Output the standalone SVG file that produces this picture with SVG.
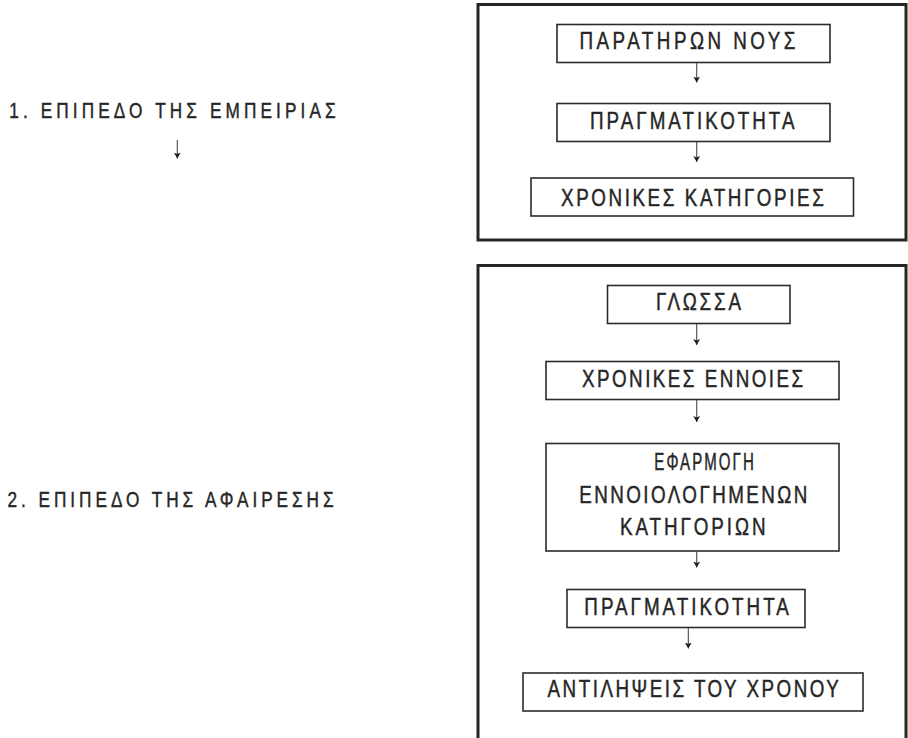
<svg xmlns="http://www.w3.org/2000/svg" width="908" height="738" viewBox="0 0 908 738">
  <style>
    .frame { fill: none; stroke: #262626; stroke-width: 3; }
    .box { fill: #ffffff; stroke: #2b2b2b; stroke-width: 1.6; }
    .lbl { font-family: "Liberation Sans", Arial, sans-serif; font-size: 23.5px; fill: #262626; stroke: #262626; stroke-width: 0.45; }
    .lvl { font-family: "Liberation Sans", Arial, sans-serif; font-size: 21.5px; fill: #262626; stroke: #262626; stroke-width: 0.45; }
    .conn { stroke: #4a4a4a; stroke-width: 1.1; fill: none; marker-end: url(#head); }
  </style>
  <defs>
    <!-- small barbed arrowhead, drawn along +x and turned to the line direction -->
    <marker id="head" viewBox="0 0 6 7" refX="6" refY="3.5" markerWidth="6" markerHeight="7" markerUnits="userSpaceOnUse" orient="auto">
      <path d="M0,0 L6,3.5 L0,7 L1.6,3.5 Z" fill="#1e1e1e"/>
    </marker>
  </defs>
  <rect width="908" height="738" fill="#ffffff"/>

  <!-- level labels (condensed by a horizontal scale) -->
  <g id="level-1" transform="translate(9.3 117.5) scale(0.8 1)">
    <text class="lvl" x="0" y="0" textLength="407.9" lengthAdjust="spacing">1. ΕΠΙΠΕΔΟ ΤΗΣ ΕΜΠΕΙΡΙΑΣ</text>
  </g>
  <g id="level-2" transform="translate(7.6 507) scale(0.8 1)">
    <text class="lvl" x="0" y="0" textLength="407.5" lengthAdjust="spacing">2. ΕΠΙΠΕΔΟ ΤΗΣ ΑΦΑΙΡΕΣΗΣ</text>
  </g>

  <!-- outer frames -->
  <g id="frame-experience">
    <rect class="frame" x="478" y="4.5" width="428" height="235.5"/>
  </g>
  <g id="frame-abstraction">
    <rect class="frame" x="478" y="265.5" width="428" height="480"/>
  </g>

  <!-- upper frame nodes -->
  <g id="observing-mind">
    <rect class="box" x="557" y="24.5" width="273" height="38"/>
    <text class="lbl" transform="translate(579.5 48.5) scale(0.8 1)" textLength="270" lengthAdjust="spacing">ΠΑΡΑΤΗΡΩΝ ΝΟΥΣ</text>
  </g>
  <g id="reality-1">
    <rect class="box" x="557" y="103.5" width="273" height="38"/>
    <text class="lbl" transform="translate(590 128.5) scale(0.8 1)" textLength="255.6" lengthAdjust="spacing">ΠΡΑΓΜΑΤΙΚΟΤΗΤΑ</text>
  </g>
  <g id="time-categories">
    <rect class="box" x="531" y="178" width="322.5" height="38"/>
    <text class="lbl" transform="translate(561 206) scale(0.8 1)" textLength="328.5" lengthAdjust="spacing">ΧΡΟΝΙΚΕΣ ΚΑΤΗΓΟΡΙΕΣ</text>
  </g>

  <!-- lower frame nodes -->
  <g id="language">
    <rect class="box" x="607.5" y="285.5" width="182.5" height="38"/>
    <text class="lbl" transform="translate(656 310) scale(0.8 1)" textLength="106.25" lengthAdjust="spacing">ΓΛΩΣΣΑ</text>
  </g>
  <g id="time-concepts">
    <rect class="box" x="546" y="361.5" width="293" height="38"/>
    <text class="lbl" transform="translate(582 386.7) scale(0.8 1)" textLength="276.5" lengthAdjust="spacing">ΧΡΟΝΙΚΕΣ ΕΝΝΟΙΕΣ</text>
  </g>
  <g id="applied-categories">
    <rect class="box" x="546" y="443.5" width="293" height="107.5"/>
    <text class="lbl" transform="translate(654.3 470) scale(0.64 1)" textLength="155.5" lengthAdjust="spacing">ΕΦΑΡΜΟΓΗ</text>
    <text class="lbl" transform="translate(579.3 502.5) scale(0.8 1)" textLength="285" lengthAdjust="spacing">ΕΝΝΟΙΟΛΟΓΗΜΕΝΩΝ</text>
    <text class="lbl" transform="translate(620 535) scale(0.8 1)" textLength="181.9" lengthAdjust="spacing">ΚΑΤΗΓΟΡΙΩΝ</text>
  </g>
  <g id="reality-2">
    <rect class="box" x="567" y="589.5" width="238" height="38"/>
    <text class="lbl" transform="translate(584.3 615) scale(0.8 1)" textLength="255.6" lengthAdjust="spacing">ΠΡΑΓΜΑΤΙΚΟΤΗΤΑ</text>
  </g>
  <g id="time-perceptions">
    <rect class="box" x="523" y="673" width="340" height="38"/>
    <text class="lbl" transform="translate(547.6 697) scale(0.8 1)" textLength="364" lengthAdjust="spacing">ΑΝΤΙΛΗΨΕΙΣ ΤΟΥ ΧΡΟΝΟΥ</text>
  </g>

  <!-- connectors -->
  <g id="connectors">
    <line class="conn" x1="177.3" y1="140" x2="177.3" y2="158.5"/>
    <line class="conn" x1="696.7" y1="63" x2="696.7" y2="82.5"/>
    <line class="conn" x1="696.7" y1="142" x2="696.7" y2="162"/>
    <line class="conn" x1="696.7" y1="324" x2="696.7" y2="345"/>
    <line class="conn" x1="696.7" y1="400" x2="696.7" y2="422"/>
    <line class="conn" x1="696.7" y1="551.5" x2="696.7" y2="567.5"/>
    <line class="conn" x1="688.3" y1="628" x2="688.3" y2="648.5"/>
  </g>
</svg>
